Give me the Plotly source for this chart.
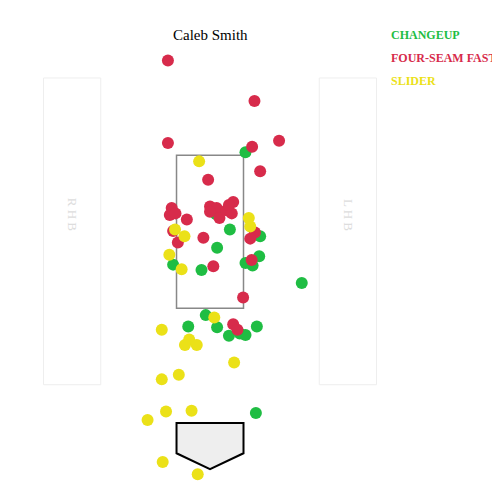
import plotly.graph_objects as go

# Pitch locations (plate_x ft, plate_z ft)
changeup_x = [0.75, 0.13, 0.42, 1.06, 0.15, -0.78, -0.18, 0.75, 0.90, 1.04, 1.94, -0.09, -0.46, 0.15, 0.40, 0.63, 0.75, 0.99, 0.97]
changeup_z = [3.54, 2.73, 2.53, 2.44, 2.29, 2.07, 2.00, 2.09, 2.06, 2.18, 1.83, 1.41, 1.26, 1.25, 1.14, 1.17, 1.15, 1.26, 0.13]

fastball_x = [-0.89, 0.94, -0.89, 1.46, 0.89, 1.06, -0.04, 0.49, -0.81, -0.85, -0.73, -0.49, 0.00, 0.14, 0.00, 0.20, 0.35, 0.46, 0.40, -0.78, -0.68, -0.14, 0.95, 0.85, 0.07, 0.88, 0.70, 0.49, 0.58]
fastball_z = [4.74, 4.21, 3.66, 3.69, 3.61, 3.29, 3.18, 2.89, 2.81, 2.72, 2.74, 2.66, 2.83, 2.81, 2.76, 2.68, 2.78, 2.74, 2.85, 2.51, 2.36, 2.42, 2.49, 2.41, 2.05, 2.13, 1.64, 1.29, 1.22]

slider_x = [-0.23, 0.82, 0.85, -0.74, -0.54, -0.86, -0.60, 0.09, -1.02, -0.44, -0.53, -0.28, 0.51, -0.66, -1.02, -0.93, -0.39, -1.32, -1.00, -0.26]
slider_z = [3.42, 2.68, 2.57, 2.53, 2.44, 2.20, 2.01, 1.38, 1.22, 1.09, 1.02, 1.02, 0.79, 0.63, 0.57, 0.15, 0.16, 0.04, -0.51, -0.67]

pitch_names = ["CHANGEUP", "FOUR-SEAM FASTBALL", "SLIDER"]
pitch_colors = ["#1fbd43", "#d72b4b", "#ebe118"]
title_text = "Caleb Smith"

# Geometry (feet)
zone_half = 0.708
zone_bot, zone_top = 1.5, 3.5
box_x_in, box_x_out = 2.31, 3.52
box_bot, box_top = 0.50, 4.51

fig = go.Figure()
series = [(changeup_x, changeup_z), (fastball_x, fastball_z), (slider_x, slider_z)]
for (xs, zs), name, col in zip(series, pitch_names, pitch_colors):
    fig.add_trace(go.Scatter(x=xs, y=zs, mode="markers", name=name,
                             marker=dict(size=12, color=col, line=dict(width=0)),
                             showlegend=False))

shapes = []
# batter boxes
for sgn in (-1, 1):
    x0, x1 = sorted([sgn * box_x_in, sgn * box_x_out])
    shapes.append(dict(type="rect", xref="x", yref="y", x0=x0, x1=x1, y0=box_bot, y1=box_top,
                       line=dict(color="#eeeeee", width=1), fillcolor="rgba(0,0,0,0)", layer="below"))
# strike zone
shapes.append(dict(type="rect", xref="x", yref="y", x0=-zone_half, x1=zone_half, y0=zone_bot, y1=zone_top,
                   line=dict(color="#888888", width=1.5), fillcolor="rgba(0,0,0,0)", layer="below"))
# home plate
shapes.append(dict(type="path", xref="x", yref="y",
                   path=f"M {-zone_half} 0 L {zone_half} 0 L {zone_half} -0.396 L 0 -0.605 L {-zone_half} -0.396 Z",
                   line=dict(color="black", width=2), fillcolor="#eeeeee", layer="below"))

annotations = [
    dict(text=title_text, xref="paper", yref="paper", x=0.4106, y=0.9451, xanchor="center", yanchor="middle",
         showarrow=False, font=dict(family="Liberation Serif", size=15, color="black")),
    dict(text="R H B", xref="x", yref="y", x=-(box_x_in + box_x_out) / 2, y=2.72, textangle=90,
         showarrow=False, font=dict(family="Liberation Serif", size=13, color="#dddddd")),
    dict(text="L H B", xref="x", yref="y", x=(box_x_in + box_x_out) / 2, y=2.72, textangle=90,
         showarrow=False, font=dict(family="Liberation Serif", size=13, color="#dddddd")),
]
for i, (name, col) in enumerate(zip(pitch_names, pitch_colors)):
    annotations.append(dict(text=f"<b>{name}</b>", xref="paper", yref="paper", x=0.7744, y=0.9451 - i * 0.0467,
                            xanchor="left", yanchor="middle", showarrow=False,
                            font=dict(family="Liberation Serif", size=12, color=col)))

fig.update_layout(
    width=492, height=492,
    margin=dict(l=0, r=0, t=0, b=0),
    paper_bgcolor="white", plot_bgcolor="white",
    xaxis=dict(range=[-4.271, 6.131], visible=False, fixedrange=True),
    yaxis=dict(range=[-1.007, 5.425], visible=False, fixedrange=True),
    shapes=shapes, annotations=annotations, showlegend=False,
)
fig.write_html("out.html")
